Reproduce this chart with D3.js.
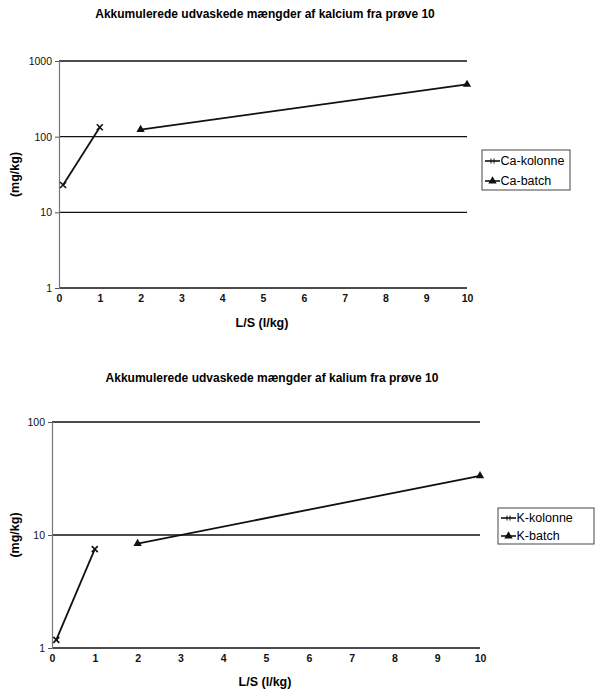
<!DOCTYPE html>
<html>
<head>
<meta charset="utf-8">
<script src="https://cdn.jsdelivr.net/npm/d3@7"></script>
<style>
  body { margin: 0; background: #fff; }
  svg { display: block; font-family: "Liberation Sans", Arial, sans-serif; }
  .grid line { stroke: #111; stroke-width: 1.4; }
  .title { font-weight: bold; font-size: 12px; }
  .axlabel { font-weight: bold; font-size: 12.5px; }
  .tick text { font-size: 10.5px; fill: #111; }
</style>
</head>
<body>
<svg width="597" height="694"></svg>
<script>
var svg = d3.select("svg");

// x values (L/S, l/kg)
var caKolonneX = [0.1, 1];
var caKolonneY = [23, 133];
var caBatchX = [2, 10];
var caBatchY = [124, 490];

var kKolonneX = [0.1, 1];
var kKolonneY = [1.18, 7.5];
var kBatchX = [2, 10];
var kBatchY = [8.4, 33.4];

var xTicks = [0, 1, 2, 3, 4, 5, 6, 7, 8, 9, 10];
var caYTicks = [1, 10, 100, 1000];
var kYTicks = [1, 10, 100];

var charts = [
  {
    title: "Akkumulerede udvaskede mængder af kalcium fra prøve 10",
    titleX: 265, titleY: 18,
    left: 59, right: 467, top: 61, bottom: 288,
    yTicks: caYTicks, yDomain: [1, 1000],
    series: [
      {name: "Ca-kolonne", x: caKolonneX, y: caKolonneY, sym: "x"},
      {name: "Ca-batch", x: caBatchX, y: caBatchY, sym: "tri"}
    ],
    legend: {x: 482, y: 150, w: 88, h: 40},
    ylabelX: 15, xlabelY: 327
  },
  {
    title: "Akkumulerede udvaskede mængder af kalium fra prøve 10",
    titleX: 272, titleY: 382,
    left: 52, right: 480, top: 422, bottom: 648,
    yTicks: kYTicks, yDomain: [1, 100],
    series: [
      {name: "K-kolonne", x: kKolonneX, y: kKolonneY, sym: "x"},
      {name: "K-batch", x: kBatchX, y: kBatchY, sym: "tri"}
    ],
    legend: {x: 498, y: 508, w: 96, h: 36},
    ylabelX: 15, xlabelY: 686
  }
];

function drawSym(g, sym, cx, cy) {
  if (sym == "x") {
    g.append("path")
      .attr("d", "M" + (cx - 3) + "," + (cy - 3) + "L" + (cx + 3) + "," + (cy + 3) +
                 "M" + (cx - 3) + "," + (cy + 3) + "L" + (cx + 3) + "," + (cy - 3))
      .attr("stroke", "#111").attr("stroke-width", 1.6).attr("fill", "none");
  } else {
    g.append("path")
      .attr("d", d3.symbol().type(d3.symbolTriangle).size(30))
      .attr("transform", "translate(" + cx + "," + cy + ")")
      .attr("fill", "#111");
  }
}

charts.forEach(function(c) {
  var xScale = d3.scaleLinear().domain([0, 10]).range([c.left, c.right]);
  var yScale = d3.scaleLog().domain(c.yDomain).range([c.bottom, c.top]);

  svg.append("text").attr("class", "title")
    .attr("x", c.titleX).attr("y", c.titleY)
    .attr("text-anchor", "middle")
    .text(c.title);

  // gridlines
  svg.append("g").attr("class", "grid")
    .selectAll("line")
    .data(c.yTicks)
    .enter().append("line")
    .attr("x1", c.left).attr("x2", c.right)
    .attr("y1", function(d) { return yScale(d); })
    .attr("y2", function(d) { return yScale(d); });

  // y axis
  var yAxis = svg.append("g")
    .attr("transform", "translate(" + c.left + ",0)")
    .call(d3.axisLeft(yScale).tickValues(c.yTicks).tickFormat(d3.format("d")).tickSize(4).tickPadding(3));
  yAxis.select(".domain").attr("stroke", "#777").attr("stroke-width", 1.2);
  yAxis.selectAll(".tick line").attr("stroke", "#555");

  // x axis
  var xAxis = svg.append("g")
    .attr("transform", "translate(0," + c.bottom + ")")
    .call(d3.axisBottom(xScale).tickValues(xTicks).tickSize(0).tickPadding(7));
  xAxis.select(".domain").remove();
  xAxis.selectAll(".tick text").attr("font-weight", "bold");

  // labels
  svg.append("text").attr("class", "axlabel")
    .attr("transform", "translate(" + c.ylabelX + "," + ((c.top + c.bottom) / 2) + ") rotate(-90)")
    .attr("text-anchor", "middle")
    .attr("dy", "0.35em")
    .text("(mg/kg)");
  svg.append("text").attr("class", "axlabel")
    .attr("x", (c.left + c.right) / 2 - 1).attr("y", c.xlabelY)
    .attr("text-anchor", "middle")
    .text("L/S (l/kg)");

  var line = d3.line()
    .x(function(d) { return xScale(d[0]); })
    .y(function(d) { return yScale(d[1]); });

  c.series.forEach(function(s) {
    var pts = s.x.map(function(v, i) { return [v, s.y[i]]; });
    svg.append("path")
      .datum(pts)
      .attr("d", line)
      .attr("fill", "none")
      .attr("stroke", "#111")
      .attr("stroke-width", 1.8);
    var mg = svg.append("g");
    pts.forEach(function(p) { drawSym(mg, s.sym, xScale(p[0]), yScale(p[1])); });
  });

  // legend
  var lg = svg.append("g").attr("transform", "translate(" + c.legend.x + "," + c.legend.y + ")");
  lg.append("rect")
    .attr("width", c.legend.w).attr("height", c.legend.h)
    .attr("fill", "#fff").attr("stroke", "#444").attr("stroke-width", 1);
  c.series.forEach(function(s, i) {
    var ly = c.legend.h / 4 + i * c.legend.h / 2 + 1;
    lg.append("line")
      .attr("x1", 3).attr("x2", 18).attr("y1", ly).attr("y2", ly)
      .attr("stroke", "#111").attr("stroke-width", 1.6);
    var sg = lg.append("g");
    if (s.sym == "x") {
      sg.append("path")
        .attr("d", "M9,"+(ly-2.5)+"L9,"+(ly+2.5)+"M12,"+(ly-2.5)+"L12,"+(ly+2.5))
        .attr("stroke", "#111").attr("stroke-width", 1);
    } else {
      drawSym(sg, "tri", 10.5, ly);
    }
    lg.append("text")
      .attr("x", 18.5).attr("y", ly)
      .attr("dy", "0.35em")
      .attr("font-size", "12.5px")
      .text(s.name);
  });
});
</script>
</body>
</html>
